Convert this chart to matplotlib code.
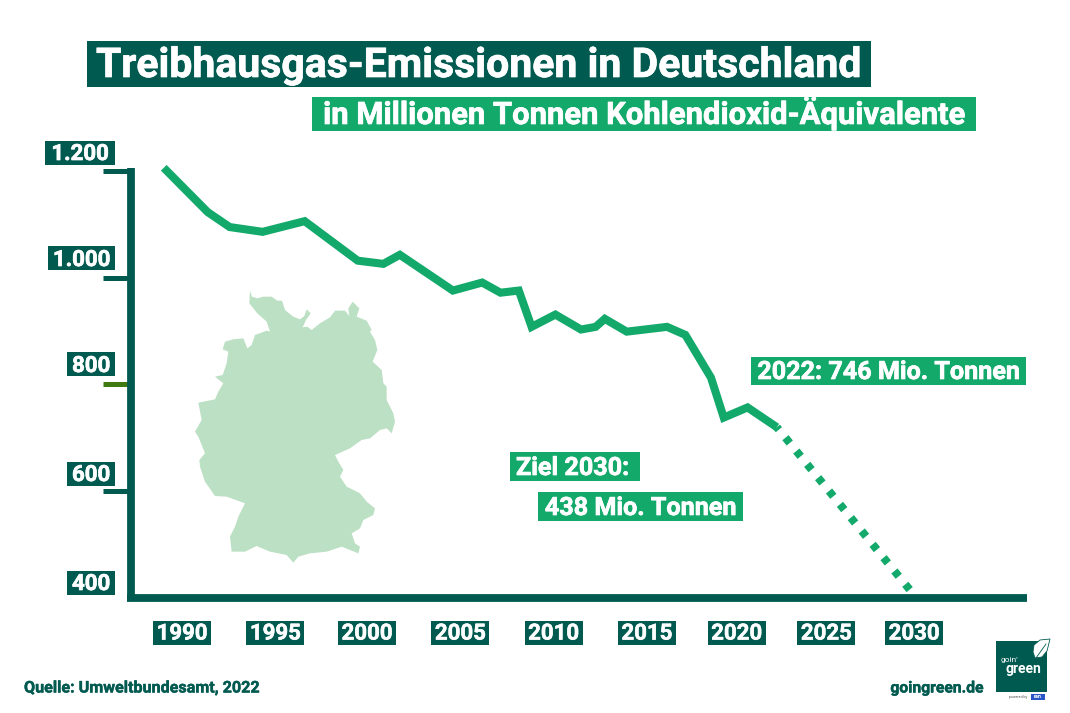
import matplotlib
matplotlib.use('Agg')
import matplotlib.pyplot as plt
import matplotlib.patheffects as pe
from matplotlib.patches import Polygon, Rectangle

W, H = 1070, 713
DARK = '#005a50'
GREEN = '#12a96b'
MAP = '#bce0c3'

plt.rcParams['font.family'] = ['Roboto', 'DejaVu Sans']
plt.rcParams['font.weight'] = 'bold'

# gemessene Werte
years = [1989.0, 1991.4, 1992.6, 1994.4, 1996.7, 1999.6, 2001.0, 2001.9, 2004.8, 2006.4, 2007.4, 2008.4,
         2009.1, 2010.4, 2011.8, 2012.6, 2013.1, 2014.3, 2016.5, 2017.5, 2018.9, 2019.6, 2020.9, 2022.5]
emissions = [1206, 1123, 1095, 1086, 1106, 1032, 1026, 1043, 976, 991, 972, 976,
             908, 931, 903, 908, 923, 899, 908, 893, 813, 738, 757, 720]
goal_years = [2022.5, 2029.8]
goal_values = [720, 414]

y_ticks = [1200, 1000, 800, 600, 400]
y_labels = ['1.200', '1.000', '800', '600', '400']
x_ticks = [1990, 1995.1, 2000.1, 2005.2, 2010.3, 2015.4, 2020.3, 2025.2, 2030]
x_labels = ['1990', '1995', '2000', '2005', '2010', '2015', '2020', '2025', '2030']

# Umriss Deutschland, Pixel im Ausschnitt (3x) ab (170, 280)
germany = [(240, 32), (246, 50), (262, 55), (280, 50), (305, 50), (322, 62), (336, 62), (345, 90), (370, 110),
           (390, 118), (403, 108), (410, 88), (422, 100), (408, 120), (398, 142), (412, 140), (425, 150),
           (450, 130), (480, 112), (495, 92), (525, 92), (538, 108), (535, 85), (548, 65), (568, 85), (560, 110),
           (590, 122), (605, 150), (600, 155), (615, 180), (622, 210), (608, 245), (635, 270), (640, 310),
           (650, 320), (650, 360), (670, 400), (675, 425), (665, 460), (650, 445), (630, 450), (600, 475),
           (575, 480), (540, 505), (495, 525), (505, 545), (520, 570), (510, 590), (530, 620), (570, 640),
           (590, 665), (615, 685), (610, 705), (580, 720), (570, 745), (545, 760), (555, 790), (570, 800),
           (565, 820), (540, 810), (515, 800), (470, 815), (420, 820), (385, 830), (370, 848), (350, 825),
           (300, 815), (260, 798), (225, 815), (185, 815), (180, 770), (195, 740), (205, 710), (225, 670),
           (170, 650), (135, 648), (105, 605), (90, 560), (88, 540), (105, 520), (85, 470), (75, 455),
           (95, 420), (85, 368), (135, 358), (145, 335), (160, 310), (135, 290), (158, 285), (170, 250),
           (175, 215), (158, 208), (165, 185), (190, 178), (220, 175), (232, 205), (245, 195), (255, 165),
           (290, 152), (300, 155), (290, 125), (262, 100), (238, 70)]
# Blatt im Logo
leaf = [(1050, 639), (1040, 640), (1034, 645), (1033, 652), (1035, 658), (1042, 657), (1047, 651)]


def px(x, y):
    return x / W, 1 - y / H


def bold(color, w=0.5):
    return [pe.withStroke(linewidth=w, foreground=color)]


def rect(x0, y0, x1, y1, color, z=1):
    fig.add_artist(Rectangle(px(x0, y1), (x1 - x0) / W, (y1 - y0) / H, transform=fig.transFigure,
                             color=color, lw=0, zorder=z))


def box(x0, y0, x1, y1, base, text, color, size, tx=None):
    # Textfeld mit farbiger Flaeche, Angaben in Pixeln
    rect(x0, y0, x1, y1, color)
    xt = (x0 + x1) / 2 if tx is None else tx
    fig.text(*px(xt, base), text, color='white', fontsize=size,
             ha='center' if tx is None else 'left', va='baseline', path_effects=bold('white'))


fig = plt.figure(figsize=(W / 100, H / 100), dpi=100)
ax = fig.add_axes([131 / W, 1 - 598 / H, (1027 - 131) / W, (598 - 171) / H])
ax.set_xlim(1987.21, 2036.17)
ax.set_ylim(400, 1200)
ax.patch.set_alpha(0)

ax.plot(years, emissions, color=GREEN, lw=5.8, solid_joinstyle='miter', solid_capstyle='butt', clip_on=False)
ax.plot(goal_years, goal_values, color=GREEN, lw=5.8, linestyle=(0.45, (0.85, 1.287)), dash_capstyle='butt', clip_on=False)

for s in ['top', 'right']:
    ax.spines[s].set_visible(False)
for s in ['left', 'bottom']:
    ax.spines[s].set_linewidth(5.6)
    ax.spines[s].set_color(DARK)
    ax.spines[s].set_capstyle('butt')
ax.spines['left'].set_bounds(396, 1205)
ax.spines['bottom'].set_bounds(1987.0, 2036.17)

ax.set_yticks(y_ticks[:-1], [''] * 4)
ax.tick_params(axis='y', length=20, width=3.6, color=DARK)
ax.yaxis.get_major_ticks()[2].tick1line.set_markeredgecolor('#3f7a10')
ax.set_xticks(x_ticks, x_labels)
ax.tick_params(axis='x', length=0, pad=17.7, labelsize=16, labelcolor='white')
for lab, t in zip(ax.get_xticklabels(), x_ticks):
    lab.set_path_effects(bold('white', 0.4))
    xc = ax.transData.transform((t, 400))[0]
    rect(xc - 29, 621, xc + 29, 645, DARK, z=-1)

# y-Beschriftung sitzt ueber den Strichen
y_boxes = [(45, 115, 141, 160), (48, 115, 246, 266), (67, 115, 352, 372), (67, 115, 462, 481), (67, 115, 571, 590)]
for (x0, x1, y0, base), lab in zip(y_boxes, y_labels):
    box(x0, y0, x1, y0 + 24, base, lab, DARK, 16)

germany_px = [(170 + a / 3, 280 + b / 3) for a, b in germany]
fig.add_artist(Polygon([px(a, b) for a, b in germany_px], transform=fig.transFigure, facecolor=MAP, edgecolor='none'))

box(87, 41, 871, 87, 77, 'Treibhausgas-Emissionen in Deutschland', DARK, 29.5)
box(312, 97, 976, 131, 124, 'in Millionen Tonnen Kohlendioxid-Äquivalente', GREEN, 22.3)
box(751, 357, 1026, 385, 379, '2022: 746 Mio. Tonnen', GREEN, 18.1)
box(510, 452, 640, 481, 475, 'Ziel 2030:', GREEN, 18.1, tx=516)
box(538, 492, 743, 521, 515, '438 Mio. Tonnen', GREEN, 18.1)

fig.text(*px(24, 688), 'Quelle: Umweltbundesamt, 2022', color=DARK, fontsize=11.6, va='center', path_effects=bold(DARK, 0.3))
fig.text(*px(984, 688), 'goingreen.de', color=DARK, fontsize=11.3, va='center', ha='right', path_effects=bold(DARK, 0.3))

# Logo
rect(996, 641, 1047, 692, DARK)
fig.add_artist(Polygon([px(a, b) for a, b in leaf], transform=fig.transFigure, facecolor='white', edgecolor=DARK, lw=0.6, zorder=2))
fig.add_artist(plt.Line2D([px(1036, 658)[0], px(1046, 644)[0]], [px(1036, 658)[1], px(1046, 644)[1]],
                          transform=fig.transFigure, color=DARK, lw=0.6, zorder=3))
fig.text(*px(1001, 660), "goin'", color='white', fontsize=6, va='center', fontweight='normal')
fig.text(*px(1005, 669), 'green', color='white', fontsize=10, va='center')
fig.text(*px(1009, 697), 'powered by', color='#555555', fontsize=2.5, va='center', fontweight='normal')
rect(1031, 694, 1045, 700, '#2a55c8')
fig.text(*px(1038, 697), 'ran', color='white', fontsize=4, va='center', ha='center')

fig.savefig('out.png', dpi=100)
